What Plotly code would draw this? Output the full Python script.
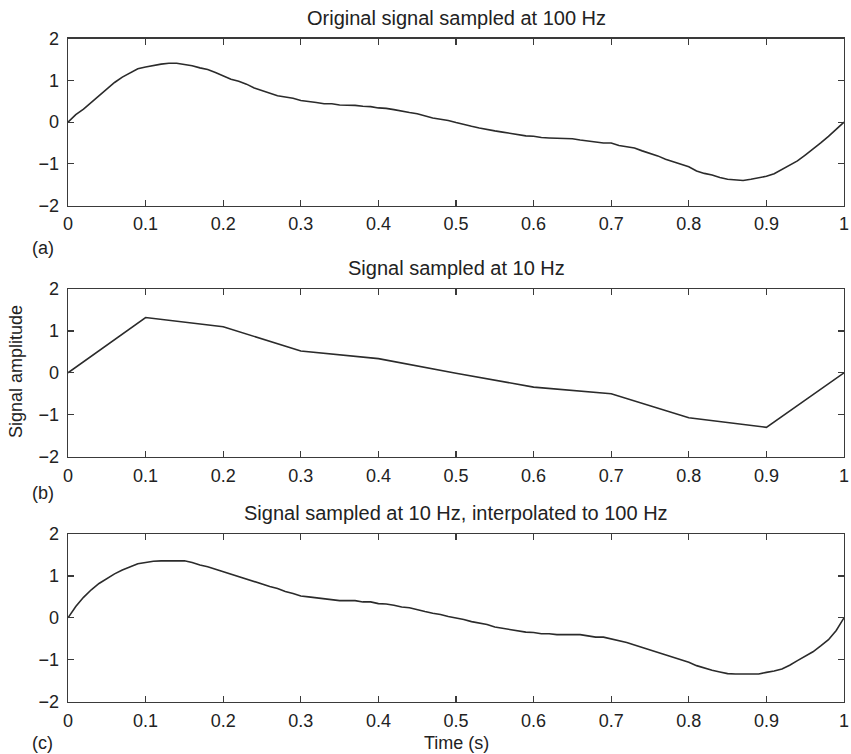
import plotly.graph_objects as go

W, H = 851, 754

TIME_100 = [0.00, 0.01, 0.02, 0.03, 0.04, 0.05, 0.06, 0.07, 0.08, 0.09,
            0.10, 0.11, 0.12, 0.13, 0.14, 0.15, 0.16, 0.17, 0.18, 0.19,
            0.20, 0.21, 0.22, 0.23, 0.24, 0.25, 0.26, 0.27, 0.28, 0.29,
            0.30, 0.31, 0.32, 0.33, 0.34, 0.35, 0.36, 0.37, 0.38, 0.39,
            0.40, 0.41, 0.42, 0.43, 0.44, 0.45, 0.46, 0.47, 0.48, 0.49,
            0.50, 0.51, 0.52, 0.53, 0.54, 0.55, 0.56, 0.57, 0.58, 0.59,
            0.60, 0.61, 0.62, 0.63, 0.64, 0.65, 0.66, 0.67, 0.68, 0.69,
            0.70, 0.71, 0.72, 0.73, 0.74, 0.75, 0.76, 0.77, 0.78, 0.79,
            0.80, 0.81, 0.82, 0.83, 0.84, 0.85, 0.86, 0.87, 0.88, 0.89,
            0.90, 0.91, 0.92, 0.93, 0.94, 0.95, 0.96, 0.97, 0.98, 0.99, 1.00]

ORIGINAL_100HZ = [0.00, 0.18, 0.31, 0.47, 0.65, 0.81, 0.95, 1.08, 1.19, 1.28,
                  1.32, 1.36, 1.39, 1.41, 1.41, 1.38, 1.35, 1.30, 1.26, 1.19,
                  1.10, 1.03, 0.98, 0.91, 0.82, 0.76, 0.70, 0.63, 0.60, 0.57,
                  0.52, 0.50, 0.47, 0.44, 0.44, 0.41, 0.41, 0.40, 0.38, 0.37,
                  0.34, 0.33, 0.30, 0.26, 0.23, 0.20, 0.15, 0.10, 0.07, 0.04,
                  -0.01, -0.06, -0.10, -0.14, -0.18, -0.21, -0.24, -0.27, -0.30, -0.33,
                  -0.34, -0.37, -0.38, -0.39, -0.40, -0.40, -0.43, -0.45, -0.47, -0.50,
                  -0.50, -0.56, -0.59, -0.62, -0.69, -0.75, -0.81, -0.89, -0.95, -1.01,
                  -1.07, -1.17, -1.23, -1.27, -1.33, -1.37, -1.39, -1.40, -1.37, -1.34,
                  -1.30, -1.24, -1.14, -1.05, -0.93, -0.79, -0.65, -0.50, -0.34, -0.18, 0.00]

TIME_10 = [0.0, 0.1, 0.2, 0.3, 0.4, 0.5, 0.6, 0.7, 0.8, 0.9, 1.0]
SAMPLED_10HZ = [0.00, 1.32, 1.10, 0.52, 0.34, -0.01, -0.34, -0.50, -1.07, -1.30, 0.00]

INTERP_100HZ = [0.00, 0.27, 0.49, 0.67, 0.82, 0.94, 1.05, 1.14, 1.22, 1.29,
                1.32, 1.35, 1.36, 1.36, 1.36, 1.36, 1.32, 1.26, 1.22, 1.16,
                1.10, 1.04, 0.98, 0.92, 0.86, 0.81, 0.75, 0.70, 0.63, 0.58,
                0.52, 0.50, 0.48, 0.45, 0.43, 0.41, 0.41, 0.41, 0.38, 0.38,
                0.34, 0.33, 0.30, 0.26, 0.24, 0.19, 0.15, 0.11, 0.08, 0.03,
                0.00, -0.04, -0.09, -0.12, -0.16, -0.22, -0.25, -0.28, -0.31, -0.34,
                -0.35, -0.38, -0.38, -0.40, -0.40, -0.40, -0.40, -0.43, -0.46, -0.46,
                -0.50, -0.55, -0.59, -0.65, -0.71, -0.77, -0.82, -0.88, -0.94, -1.00,
                -1.06, -1.14, -1.20, -1.25, -1.29, -1.33, -1.34, -1.34, -1.34, -1.34,
                -1.30, -1.27, -1.22, -1.13, -1.02, -0.92, -0.81, -0.67, -0.52, -0.30, 0.00]

X_TICKS = [0, 0.1, 0.2, 0.3, 0.4, 0.5, 0.6, 0.7, 0.8, 0.9, 1]
X_TICK_TEXT = ["0", "0.1", "0.2", "0.3", "0.4", "0.5", "0.6", "0.7", "0.8", "0.9", "1"]
Y_TICKS = [-2, -1, 0, 1, 2]
Y_TICK_TEXT = ["\u22122", "\u22121", "0", "1", "2"]

TITLES = ["Original signal sampled at 100 Hz",
          "Signal sampled at 10 Hz",
          "Signal sampled at 10 Hz, interpolated to 100 Hz"]
PANEL_LABELS = ["(a)", "(b)", "(c)"]

FONT = "Liberation Sans, Arial, Helvetica, sans-serif"
INK = "#2b2b2b"
FRAME = "#3a3a3a"

# panel pixel geometry (top, bottom) in px from top
PANELS_PX = [(38.7, 205.5), (289.0, 456.7), (534.0, 701.7)]
X_LEFT, X_RIGHT = 68.0, 844.0

series = [(TIME_100, ORIGINAL_100HZ), (TIME_10, SAMPLED_10HZ), (TIME_100, INTERP_100HZ)]

fig = go.Figure()
for i, (xs, ys) in enumerate(series):
    k = "" if i == 0 else str(i + 1)
    fig.add_trace(go.Scatter(x=xs, y=ys, mode="lines",
                             line=dict(color=INK, width=1.6),
                             xaxis="x" + k, yaxis="y" + k, showlegend=False,
                             cliponaxis=False, hoverinfo="skip"))

layout = dict(width=W, height=H, margin=dict(l=0, r=0, t=0, b=0, autoexpand=False),
              paper_bgcolor="white", plot_bgcolor="white",
              font=dict(family=FONT, size=18, color="#222"))

for i, (top, bot) in enumerate(PANELS_PX):
    k = "" if i == 0 else str(i + 1)
    common = dict(ticks="inside", ticklen=6, tickwidth=1.2, tickcolor=FRAME,
                  showline=True, linecolor=FRAME, linewidth=1.3, mirror="ticks",
                  showgrid=False, zeroline=False, automargin=False,
                  tickmode="array",
                  tickfont=dict(size=18, family=FONT, color="#222"))
    layout["xaxis" + k] = dict(domain=[X_LEFT / W, X_RIGHT / W], range=[0, 1],
                               anchor="y" + k, tickvals=X_TICKS,
                               ticktext=X_TICK_TEXT, ticklabelstandoff=2, **common)
    layout["yaxis" + k] = dict(domain=[1 - bot / H, 1 - top / H], range=[-2, 2],
                               anchor="x" + k, tickvals=Y_TICKS,
                               ticktext=Y_TICK_TEXT, ticklabelstandoff=4, **common)

annotations = []
title_y = [18, 268, 513]
label_y = [248, 493, 743]
for i in range(3):
    annotations.append(dict(text=TITLES[i], x=(X_LEFT + X_RIGHT) / 2 / W,
                            y=1 - title_y[i] / H, xref="paper", yref="paper",
                            xanchor="center", yanchor="middle", showarrow=False,
                            font=dict(size=20, family=FONT, color="#222")))
    annotations.append(dict(text=PANEL_LABELS[i], x=30 / W, y=1 - label_y[i] / H,
                            xref="paper", yref="paper", xanchor="left",
                            yanchor="middle", showarrow=False,
                            font=dict(size=18, family=FONT, color="#222")))
annotations.append(dict(text="Time (s)", x=(X_LEFT + X_RIGHT) / 2 / W, y=1 - 743 / H,
                        xref="paper", yref="paper", xanchor="center",
                        yanchor="middle", showarrow=False,
                        font=dict(size=18, family=FONT, color="#222")))
annotations.append(dict(text="Signal amplitude", x=16 / W, y=1 - 372 / H,
                        xref="paper", yref="paper", xanchor="center",
                        yanchor="middle", textangle=-90, showarrow=False,
                        font=dict(size=18, family=FONT, color="#222")))
layout["annotations"] = annotations

fig.update_layout(**layout)
fig.write_html("out.html",
               config={"displayModeBar": False, "staticPlot": True},
               post_script="document.body.style.margin='0';"
                           "document.body.style.overflow='hidden';")
